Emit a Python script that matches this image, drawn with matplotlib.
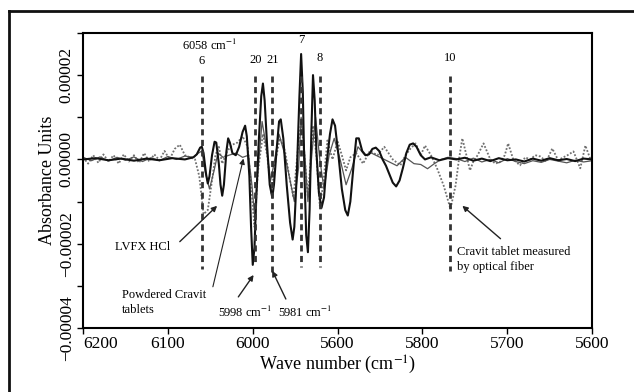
import numpy as np
import matplotlib
matplotlib.use("Agg")
import matplotlib.pyplot as plt
from matplotlib.lines import Line2D

plt.rcParams['font.family'] = ['Liberation Serif', 'DejaVu Serif']
plt.rcParams['mathtext.fontset'] = 'stix'

SCALE = 1e-5  # values below are in units of 1e-5 absorbance

# LVFX HCl (thick solid)
lvfx_wn = [6200, 6185, 6170, 6155, 6140, 6125, 6110, 6095, 6080, 6070, 6066, 6062,
           6060, 6058, 6055, 6053, 6051, 6048, 6045, 6043, 6040, 6038, 6036, 6034,
           6031, 6029, 6027, 6024, 6020, 6016, 6012, 6009, 6007, 6004, 6002, 6000,
           5998, 5996, 5993, 5990, 5988, 5986, 5983, 5980, 5977, 5975, 5972, 5969,
           5967, 5964, 5960, 5956, 5953, 5951, 5948, 5945, 5943, 5941, 5939, 5937,
           5935, 5933, 5931, 5929, 5927, 5925, 5922, 5919, 5916, 5913, 5909, 5906,
           5903, 5899, 5895, 5891, 5888, 5885, 5881, 5878, 5875, 5871, 5867, 5863,
           5859, 5855, 5851, 5847, 5843, 5839, 5835, 5831, 5827, 5823, 5819, 5815,
           5811, 5807, 5802, 5797, 5790, 5780, 5770, 5760, 5750, 5740, 5730, 5720,
           5710, 5700, 5690, 5680, 5670, 5660, 5650, 5640, 5630, 5620, 5610, 5600]
lvfx_val = [0.0, 0.03, -0.02, 0.02, -0.03, 0.02, -0.02, 0.03, 0.0, 0.05, 0.12, 0.28,
            0.3, 0.15, -0.35, -0.57, -0.4, 0.1, 0.42, 0.4, -0.1, -0.6, -0.86, -0.6,
            0.2, 0.5, 0.4, 0.15, 0.1, 0.3, 0.65, 0.8, 0.55, -0.4, -1.6, -2.5,
            -2.1, -1.0, 0.4, 1.5, 1.8, 1.4, 0.3, -0.6, -0.9, -0.6, 0.2, 0.9,
            0.95, 0.5, -0.6, -1.5, -1.9, -1.6, -0.3, 1.5, 2.5, 1.6, -0.4, -1.8,
            -2.2, -1.2, 0.6, 2.0, 1.4, 0.2, -0.8, -1.15, -0.9, -0.1, 0.6, 0.95,
            0.8, 0.1, -0.7, -1.2, -1.33, -1.0, -0.1, 0.5, 0.5, 0.2, 0.1, 0.12,
            0.25, 0.28, 0.2, 0.0, -0.15, -0.35, -0.55, -0.64, -0.5, -0.2, 0.15, 0.35,
            0.38, 0.3, 0.1, 0.0, 0.05, -0.02, 0.03, 0.0, 0.04, -0.03, 0.02, -0.04,
            0.03, -0.02, 0.0, -0.05, 0.02, -0.03, 0.03, -0.02, 0.01, -0.04, 0.02, 0.0]

# Powdered Cravit tablets (thin solid)
powder_wn = [6200, 6190, 6180, 6170, 6160, 6150, 6140, 6130, 6120, 6110, 6100, 6090,
             6080, 6070, 6064, 6060, 6056, 6051, 6046, 6041, 6035, 6028, 6020, 6012,
             6005, 6001, 5998, 5994, 5989, 5984, 5979, 5975, 5969, 5962, 5956, 5951,
             5946, 5943, 5939, 5935, 5930, 5926, 5921, 5916, 5910, 5904, 5897, 5890,
             5883, 5876, 5868, 5860, 5850, 5840, 5830, 5820, 5810, 5802, 5794, 5786,
             5778, 5770, 5760, 5750, 5740, 5730, 5720, 5710, 5700, 5690, 5680, 5670,
             5660, 5650, 5640, 5630, 5620, 5610, 5600]
powder_val = [0.05, -0.03, 0.06, -0.04, 0.05, -0.02, 0.06, -0.05, 0.04, -0.03, 0.07, 0.0,
              0.08, 0.05, 0.15, 0.2, -0.3, -0.7, -0.3, 0.15, 0.05, 0.1, 0.15, 0.05,
              0.1, -0.6, -1.3, -0.3, 0.9, 0.3, -0.5, -0.1, 0.6, 0.1, -0.5, -1.0,
              -0.2, 1.0, 0.2, -1.0, 0.2, 1.0, 0.0, -0.7, 0.1, 0.5, 0.0, -0.6,
              -0.2, 0.3, 0.1, 0.15, 0.05, -0.05, -0.15, 0.05, -0.1, -0.12, -0.22, -0.1,
              0.0, 0.05, 0.02, -0.05, 0.03, -0.06, 0.0, -0.08, 0.02, -0.05, -0.1, -0.03,
              -0.07, 0.0, -0.04, -0.08, -0.02, -0.06, -0.03]

# Cravit tablet measured by optical fiber (dotted)
fiber_wn = [6200, 6194, 6188, 6182, 6176, 6170, 6164, 6158, 6152, 6146, 6140, 6134,
            6128, 6122, 6116, 6110, 6104, 6098, 6092, 6086, 6080, 6074, 6068, 6063,
            6058, 6053, 6048, 6044, 6040, 6036, 6030, 6024, 6018, 6012, 6006, 6002,
            5998, 5994, 5988, 5983, 5978, 5973, 5968, 5962, 5957, 5952, 5947, 5943,
            5939, 5935, 5931, 5929, 5925, 5921, 5917, 5912, 5906, 5900, 5895, 5890,
            5885, 5878, 5870, 5862, 5853, 5845, 5835, 5826, 5820, 5814, 5808, 5802,
            5797, 5790, 5783, 5775, 5767, 5761, 5757, 5753, 5747, 5744, 5740, 5735,
            5728, 5720, 5714, 5708, 5703, 5699, 5693, 5685, 5679, 5673, 5667, 5661,
            5654, 5647, 5640, 5634, 5629, 5622, 5614, 5608, 5602, 5600]
fiber_val = [0.05, -0.1, 0.1, -0.08, 0.12, -0.05, 0.1, -0.1, 0.12, -0.05, 0.1, -0.08,
             0.15, -0.05, 0.12, -0.02, 0.2, 0.0, 0.25, 0.35, 0.1, 0.05, 0.0, -0.4,
             -1.3, -1.2, -0.5, 0.1, 0.3, -0.1, 0.2, 0.35, 0.4, 0.55, 0.3, -0.6,
             -1.6, -0.3, 0.6, 0.1, -0.8, 0.0, 0.5, 0.2, -0.4, -0.9, 0.2, 0.9,
             0.1, -0.9, 0.2, 0.8, 0.1, -1.1, -0.6, 0.45, 0.0, 0.43, 0.1, -0.26,
             0.05, 0.15, -0.1, 0.2, 0.1, 0.3, 0.0, -0.14, 0.1, 0.26, 0.38, 0.1,
             0.33, 0.1, -0.2, -0.62, -1.17, -0.62, 0.0, 0.5, 0.0, -0.26, -0.05, 0.1,
             0.38, 0.0, -0.1, -0.05, 0.1, 0.38, 0.0, -0.14, 0.05, 0.0, 0.1, 0.07,
             -0.05, 0.26, -0.02, 0.05, 0.1, 0.19, -0.21, 0.33, 0.0, 0.05]

# band markers: position, label, label height, top, bottom
band_pos = [6060, 5997, 5977, 5943, 5921, 5767]
band_labels = ['6', '20', '21', '7', '8', '10']
band_label_y = [2.33, 2.36, 2.36, 2.83, 2.40, 2.40]
band_top = [1.98, 1.98, 1.98, 1.98, 1.98, 1.98]
band_bottom = [-2.6, -2.52, -2.67, -2.55, -2.55, -2.64]

xtick_pos = [6200, 6100, 6000, 5900, 5800, 5700, 5600]
xtick_labels = ['6200', '6100', '6000', '5600', '5800', '5700', '5600']
ytick_pos = [-4, -3, -2, -1, 0, 1, 2, 3]
ytick_labels = ['\u22120.00004', '', '\u22120.00002', '', '0.00000', '', '0.00002', '']

fig = plt.figure(figsize=(6.34, 3.92), dpi=100)
ax = fig.add_axes([0.131, 0.163, 0.803, 0.753])

s = lambda v: np.array(v) * SCALE

ax.plot(fiber_wn, s(fiber_val), color='#707070', lw=1.3, ls=(0, (1, 1)))
ax.plot(powder_wn, s(powder_val), color='#555555', lw=0.9)
ax.plot(lvfx_wn, s(lvfx_val), color='#111111', lw=1.5)

for p, lab, ly, top, bot in zip(band_pos, band_labels, band_label_y, band_top, band_bottom):
    ax.plot([p, p], [top * SCALE, bot * SCALE], color='#333333', lw=2, ls=(0, (2.2, 1.6)))
    ax.text(p, ly * SCALE, lab, ha='center', va='center', fontsize=9)

ax.text(6051, 2.71 * SCALE, '6058 cm$^{-1}$', ha='center', va='center', fontsize=9)

arrow = dict(arrowstyle='-|>', color='#222222', lw=1, mutation_scale=8, shrinkA=0, shrinkB=0)
ax.text(6162, -2.07 * SCALE, 'LVFX HCl', ha='left', va='center', fontsize=9)
ax.annotate('', xy=(6042, -1.10 * SCALE), xytext=(6086, -1.95 * SCALE), arrowprops=arrow)
ax.text(6154, -3.4 * SCALE, 'Powdered Cravit\ntablets', ha='left', va='center',
        fontsize=9, linespacing=1.3)
ax.annotate('', xy=(6011, 0.02 * SCALE), xytext=(6047, -3.02 * SCALE),
            arrowprops=dict(arrow, lw=0.8))
ax.text(6009, -3.62 * SCALE, '5998 cm$^{-1}$', ha='center', va='center', fontsize=9)
ax.annotate('', xy=(5999, -2.74 * SCALE), xytext=(6017, -3.26 * SCALE), arrowprops=arrow)
ax.text(5938, -3.62 * SCALE, '5981 cm$^{-1}$', ha='center', va='center', fontsize=9)
ax.annotate('', xy=(5977, -2.64 * SCALE), xytext=(5961, -3.31 * SCALE), arrowprops=arrow)
ax.text(5759, -2.38 * SCALE, 'Cravit tablet measured\nby optical fiber', ha='left',
        va='center', fontsize=9, linespacing=1.3)
ax.annotate('', xy=(5753, -1.10 * SCALE), xytext=(5708, -1.88 * SCALE), arrowprops=arrow)

ax.set_xlim(6200, 5600)
ax.set_ylim(-4 * SCALE, 3 * SCALE)
ax.set_xticks(xtick_pos)
ax.set_xticklabels(xtick_labels, fontsize=12.5)
ax.get_xticklabels()[0].set_horizontalalignment('left')
ax.set_yticks(s(ytick_pos))
ax.set_yticklabels(ytick_labels, fontsize=12.5, rotation=90, va='center')
ax.tick_params(direction='out', length=4, width=1, pad=2)
for sp in ax.spines.values():
    sp.set_linewidth(1.5)

ax.set_xlabel('Wave number (cm$^{-1}$)', fontsize=13, labelpad=1)
ax.set_ylabel('Absorbance Units', fontsize=13, labelpad=2)

# outer frame
fig.add_artist(Line2D([9 / 634, 9 / 634], [0, 1 - 11 / 392], color='#111111', lw=2,
                      transform=fig.transFigure))
fig.add_artist(Line2D([9 / 634, 1], [1 - 11 / 392, 1 - 11 / 392], color='#111111', lw=2,
                      transform=fig.transFigure))

fig.savefig('out.png', dpi=100)
